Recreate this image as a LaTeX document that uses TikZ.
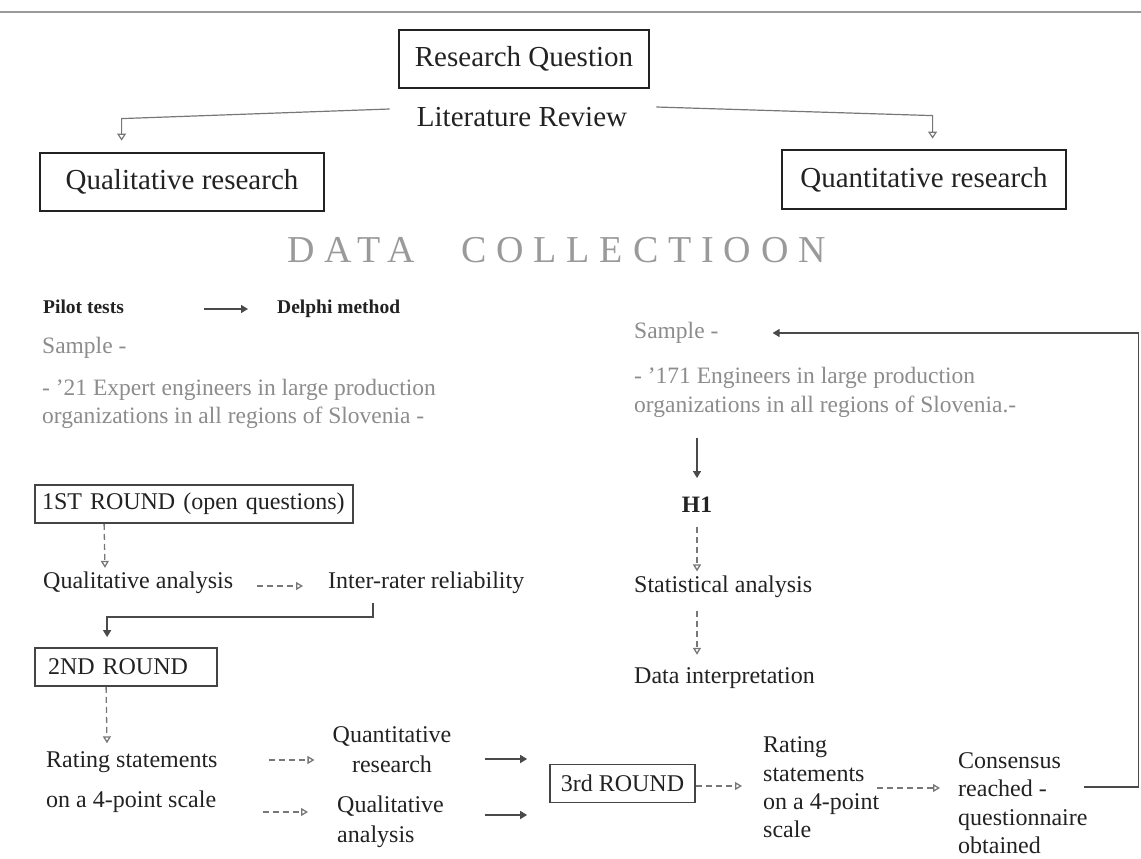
\documentclass[tikz,border=0pt]{standalone}
\usepackage{fontspec}
\setmainfont{Liberation Serif}
\newfontfamily\spacedfont{Liberation Serif}[LetterSpace=26]
\usetikzlibrary{arrows.meta}
\definecolor{ink}{HTML}{222222}
\definecolor{boxgray}{HTML}{444444}
\definecolor{sgray}{HTML}{8C8C8C}
\definecolor{tgray}{HTML}{9A9A9A}
\definecolor{lgray}{HTML}{777777}
\definecolor{dgray}{HTML}{4A4A4A}
\newcommand\fs[2]{\fontsize{#1}{#2}\selectfont}
\begin{document}
\begin{tikzpicture}[x=1pt,y=-1pt,
  txt/.style={inner sep=0pt, text=ink, font=\fs{24}{29}},
  bigbox/.style={draw=ink, line width=2.8pt, inner sep=0pt, text=ink, font=\fs{29}{34}},
  roundbox/.style={draw=boxgray, line width=1.8pt, inner ysep=0pt, text=ink, font=\fs{24}{29}, minimum height=38pt},
  graytxt/.style={inner sep=0pt, text=sgray, font=\fs{23.5}{28}, align=left},
  boldtxt/.style={inner sep=0pt, text=ink, font=\fs{19.5}{24}\bfseries},
  thinarrow/.style={draw=lgray, line width=1.2pt, -{Triangle[open,width=9pt,length=7pt]}},
  dasharrow/.style={draw=lgray, line width=1.3pt, dash pattern=on 6pt off 4pt, -{Triangle[open,width=8pt,length=7pt]}},
  darkarrow/.style={draw=dgray, line width=1.6pt, -{Triangle[width=8pt,length=7pt]}},
  topline/.style={draw=tgray, line width=1.5pt}]
\useasboundingbox (0,0) rectangle (1141,859);
\draw[topline] (0,12) -- (1141,12);

% top
\node[bigbox, minimum width=250pt, minimum height=58pt] (rq) at (524,59) {Research Question};
\node[inner sep=0pt, text=ink, font=\fs{29}{34}] (lr) at (522,117) {Literature Review};
\node[bigbox, minimum width=284pt, minimum height=58pt] (qual) at (182,182) {Qualitative research};
\node[bigbox, minimum width=284pt, minimum height=59pt] (quant) at (924,179.5) {Quantitative research};
\draw[thinarrow] ([xshift=-27pt,yshift=8pt]lr.west) -- ([xshift=83pt,yshift=33pt]qual.north west) -- ([xshift=83pt,yshift=11pt]qual.north west);
\draw[thinarrow] ([xshift=29pt,yshift=10pt]lr.east) -- ([xshift=152pt,yshift=33pt]quant.north west) -- ([xshift=152pt,yshift=10pt]quant.north west);

% title
\node[inner sep=0pt, anchor=west, text=tgray, font=\spacedfont\fs{38}{44}] (dc1) at (287,250) {DATA};
\node[inner sep=0pt, anchor=west, text=tgray, font=\spacedfont\fs{38}{44}] (dc2) at (461,250) {COLLECTIOON};

% left column
\node[boldtxt, anchor=base west] (pilot) at (43,313) {Pilot tests};
\node[boldtxt, anchor=base west] (delphi) at (277,313) {Delphi method};
\draw[darkarrow] ([xshift=80pt,yshift=4pt]pilot.base east) -- ([xshift=-29pt,yshift=4pt]delphi.base west);
\node[graytxt, anchor=west] (sampleL) at (42,348) {Sample -};
\node[graytxt, anchor=west] (sampleLt) at (42,404) {- '21 Expert engineers in large production\\organizations in all regions of Slovenia -};

\node[roundbox, text width=304pt, inner xsep=7pt, align=left] (r1) at (194,504) {1ST ROUND (open questions)};
\node[txt, anchor=west] (qa) at (43,583) {Qualitative analysis};
\node[txt, anchor=west] (irr) at (328,583) {Inter-rater reliability};
\draw[dasharrow] ([xshift=70pt]r1.south west) -- ([xshift=62pt,yshift=4pt]qa.north west);
\draw[dasharrow] ([xshift=24pt,yshift=-3pt]qa.east) -- ([xshift=-25pt,yshift=-3pt]irr.west);
\node[roundbox, text width=156pt, inner xsep=13pt, align=left] (r2) at (126,667) {2ND ROUND};
\draw[darkarrow] ([xshift=45pt,yshift=-9pt]irr.south west) -- ++(0,14) -| ([xshift=73pt,yshift=10pt]r2.north west);

\node[txt, anchor=west, align=left, font=\fs{24}{40}] (rs) at (46,782) {Rating statements\\on a 4-point scale};
\draw[dasharrow] ([xshift=72pt]r2.south west) -- ([xshift=61pt,yshift=8pt]rs.north west);

\node[txt, align=center, font=\fs{24}{30}] (quantR) at (392,750) {Quantitative\\research};
\node[txt, anchor=west, align=left, font=\fs{24}{30}] (qualA) at (337,822) {Qualitative\\analysis};
\draw[dasharrow] ([xshift=51pt,yshift=22pt]rs.east) -- ([xshift=-18pt,yshift=-10pt]quantR.west);
\draw[dasharrow] ([xshift=45pt,yshift=-30pt]rs.east) -- ([xshift=-29pt,yshift=10pt]qualA.west);

\node[roundbox, minimum width=145pt, inner xsep=0pt] (r3) at (622.5,783.5) {3rd ROUND};
\draw[darkarrow] ([xshift=-64pt,yshift=24.5pt]r3.west) -- ([xshift=-22pt,yshift=24.5pt]r3.west);
\draw[darkarrow] ([xshift=-64pt,yshift=-31.5pt]r3.west) -- ([xshift=-22pt,yshift=-31.5pt]r3.west);

\node[txt, anchor=west, align=left, font=\fs{24}{28.3}] (rating) at (763,787.5) {Rating\\statements\\on a 4-point\\scale};
\draw[dasharrow] ([yshift=-2.5pt]r3.east) -- ([xshift=-21pt,yshift=1.5pt]rating.west);
\node[txt, anchor=west, align=left, font=\fs{24}{28.5}] (cons) at (958,803) {Consensus\\reached -\\questionnaire\\obtained};
\draw[dasharrow] ([xshift=-2pt,yshift=-0.5pt]rating.east) -- ([xshift=-18pt,yshift=15pt]cons.west);

% right column
\node[graytxt, anchor=west] (sampleR) at (634,333) {Sample -};
\node[graytxt, anchor=west, font=\fs{23.5}{29}] (sampleRt) at (634,392.5) {- '171 Engineers in large production\\organizations in all regions of Slovenia.-};
\node[inner sep=0pt, text=ink, font=\fs{23.5}{28}\bfseries] (h1) at (697,505) {H1};
\draw[darkarrow] ([xshift=63pt,yshift=-20pt]sampleRt.south west) -- ([yshift=19pt]h1.north);
\node[txt, anchor=west] (stat) at (634,587) {Statistical analysis};
\node[txt, anchor=west] (di) at (634,678) {Data interpretation};
\draw[dasharrow] ([yshift=-14pt]h1.south) -- ([xshift=63pt,yshift=4.5pt]stat.north west);
\draw[dasharrow] ([xshift=63pt,yshift=-12.5pt]stat.south west) -- ([xshift=63pt,yshift=12.5pt]di.north west);

% feedback loop
\draw[darkarrow, line width=1.4pt] ([xshift=-4pt,yshift=16pt]cons.east) -- ++(55,0) |- ([xshift=54pt]sampleR.east);
\end{tikzpicture}
\end{document}
